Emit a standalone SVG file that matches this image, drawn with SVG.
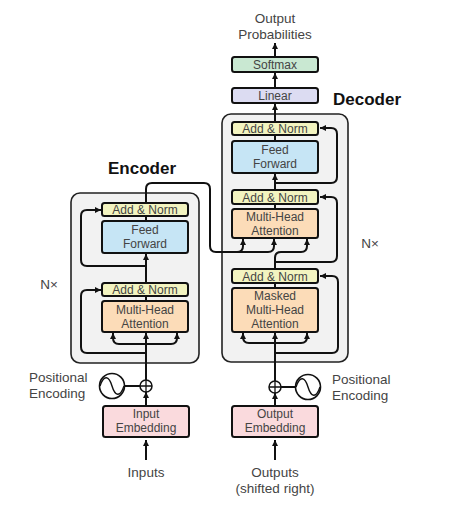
<svg xmlns="http://www.w3.org/2000/svg" width="453" height="523" viewBox="0 0 453 523">
<defs>
<marker id="ar" viewBox="0 0 10 10" refX="10" refY="5" markerWidth="6" markerHeight="6" markerUnits="userSpaceOnUse" orient="auto">
<path d="M0,0 L10,5 L0,10 z" fill="#111"/>
</marker>
<style>
.stack{fill:#f2f2f2;stroke:#222;stroke-width:1.6}
.box{stroke:#111;stroke-width:2}
.an{fill:#f3f4c0}
.ff{fill:#c6e5f5}
.mha{fill:#fcdcb8}
.emb{fill:#fadadd}
.lin{fill:#dcdcf2}
.sm{fill:#c9e8d2}
.t{font-family:"Liberation Sans",Arial,sans-serif;font-size:12px;fill:#444;text-anchor:middle}
.tl{font-family:"Liberation Sans",Arial,sans-serif;font-size:13.5px;fill:#444}
.h{font-family:"Liberation Sans",Arial,sans-serif;font-size:17px;font-weight:bold;fill:#111}
.c{fill:none;stroke:#111;stroke-width:2}
.ca{fill:none;stroke:#111;stroke-width:2;marker-end:url(#ar)}
</style>
</defs>
<rect width="453" height="523" fill="#fff"/>

<g id="encoder-stack">
<rect class="stack" x="71" y="193" width="128" height="170" rx="9"/>
<text class="h" x="142" y="174" text-anchor="middle">Encoder</text>
<text class="tl" x="49" y="289" text-anchor="middle">N×</text>
</g>
<g id="decoder-stack">
<rect class="stack" x="222" y="114" width="126" height="248" rx="9"/>
<text class="h" x="333" y="105">Decoder</text>
<text class="tl" x="370" y="248" text-anchor="middle">N×</text>
</g>

<g id="connectors">
<!-- encoder -->
<path class="ca" d="M146,460 V440"/>
<path class="ca" d="M146,405 V392"/>
<path class="ca" d="M146,380 V333"/>
<path class="ca" d="M146,344 H119 Q113,344 113,338 V333"/>
<path class="ca" d="M146,344 H171 Q177,344 177,338 V333"/>
<path class="ca" d="M146,353 H87 Q81,353 81,347 V296 Q81,290 87,290 H101"/>
<path class="c" d="M146,301 V296"/>
<path class="ca" d="M146,282 V254"/>
<path class="ca" d="M146,266 H87 Q81,266 81,260 V216 Q81,210 87,210 H101"/>
<path class="c" d="M146,221 V216"/>
<path class="ca" d="M146,203 V189 Q146,183 152,183 H204 Q210,183 210,189 V246 Q210,252 216,252 H268 Q274,252 274,246 V239"/>
<path class="ca" d="M237,252 Q243,252 243,246 V239"/>
<line class="c" x1="124" y1="386" x2="140" y2="386"/>
<!-- decoder -->
<path class="ca" d="M275,460 V440"/>
<path class="ca" d="M275,405 V393"/>
<path class="ca" d="M275,381 V333"/>
<path class="ca" d="M275,343 H249 Q243,343 243,337 V333"/>
<path class="ca" d="M275,343 H301 Q307,343 307,337 V333"/>
<path class="ca" d="M275,353 H332 Q338,353 338,347 V282 Q338,276 332,276 H320"/>
<path class="c" d="M275,288 V283"/>
<path class="ca" d="M275,268 V258 Q275,252 281,252 H301 Q307,252 307,246 V239"/>
<path class="ca" d="M275,262 H331 Q337,262 337,256 V203 Q337,197 331,197 H320"/>
<path class="c" d="M275,209 V204"/>
<path class="ca" d="M275,190 V174"/>
<path class="ca" d="M275,183 H331 Q337,183 337,177 V134 Q337,128 331,128 H320"/>
<path class="c" d="M275,141 V135"/>
<path class="ca" d="M275,122 V104"/>
<path class="ca" d="M275,88 V73"/>
<path class="ca" d="M275,57 V43"/>
<line class="c" x1="281" y1="387" x2="296" y2="387"/>
</g>

<g id="enc-add-norm-2"><rect class="box an" x="102" y="203" width="86" height="13" rx="2.5"/><text class="t" x="145" y="214">Add &amp; Norm</text></g>
<g id="enc-feed-forward"><rect class="box ff" x="102" y="221" width="86" height="32" rx="2.5"/><text class="t" x="145" y="234">Feed</text><text class="t" x="145" y="248">Forward</text></g>
<g id="enc-add-norm-1"><rect class="box an" x="102" y="283" width="86" height="13" rx="2.5"/><text class="t" x="145" y="294">Add &amp; Norm</text></g>
<g id="enc-mha"><rect class="box mha" x="102" y="301" width="86" height="31" rx="2.5"/><text class="t" x="145" y="314">Multi-Head</text><text class="t" x="145" y="328">Attention</text></g>
<g id="input-embedding"><rect class="box emb" x="103" y="406" width="86" height="31" rx="2.5"/><text class="t" x="146" y="418">Input</text><text class="t" x="146" y="432">Embedding</text></g>
<g id="enc-pos-enc">
<circle cx="112" cy="386" r="12.5" fill="#fff" stroke="#111" stroke-width="1.6"/>
<path d="M100,386 C104,374 109,376 112,386 C115,396 120,398 124,386" fill="none" stroke="#111" stroke-width="1.4"/>
<text class="tl" x="29" y="382">Positional</text><text class="tl" x="29" y="398">Encoding</text>
</g>
<g id="enc-plus"><circle cx="146" cy="386" r="6" fill="#fff" stroke="#111" stroke-width="1.5"/><path d="M140,386 H152 M146,380 V392" stroke="#111" stroke-width="1.3"/></g>
<g id="inputs"><text class="tl" x="146" y="477" text-anchor="middle">Inputs</text></g>

<g id="dec-add-norm-3"><rect class="box an" x="232" y="122" width="86" height="13" rx="2.5"/><text class="t" x="275" y="133">Add &amp; Norm</text></g>
<g id="dec-feed-forward"><rect class="box ff" x="232" y="141" width="86" height="32" rx="2.5"/><text class="t" x="275" y="154">Feed</text><text class="t" x="275" y="168">Forward</text></g>
<g id="dec-add-norm-2"><rect class="box an" x="232" y="190" width="86" height="14" rx="2.5"/><text class="t" x="275" y="201.5">Add &amp; Norm</text></g>
<g id="dec-mha"><rect class="box mha" x="232" y="209" width="86" height="29" rx="2.5"/><text class="t" x="275" y="221">Multi-Head</text><text class="t" x="275" y="235">Attention</text></g>
<g id="dec-add-norm-1"><rect class="box an" x="232" y="269" width="86" height="14" rx="2.5"/><text class="t" x="275" y="280.5">Add &amp; Norm</text></g>
<g id="dec-masked-mha"><rect class="box mha" x="232" y="288" width="86" height="44" rx="2.5"/><text class="t" x="275" y="300">Masked</text><text class="t" x="275" y="314">Multi-Head</text><text class="t" x="275" y="328">Attention</text></g>
<g id="output-embedding"><rect class="box emb" x="232" y="406" width="86" height="31" rx="2.5"/><text class="t" x="275" y="418">Output</text><text class="t" x="275" y="432">Embedding</text></g>
<g id="dec-plus"><circle cx="275" cy="387" r="6" fill="#fff" stroke="#111" stroke-width="1.5"/><path d="M269,387 H281 M275,381 V393" stroke="#111" stroke-width="1.3"/></g>
<g id="dec-pos-enc">
<circle cx="308" cy="387" r="12.5" fill="#fff" stroke="#111" stroke-width="1.6"/>
<path d="M296,387 C300,375 305,377 308,387 C311,397 316,399 320,387" fill="none" stroke="#111" stroke-width="1.4"/>
<text class="tl" x="332" y="384">Positional</text><text class="tl" x="332" y="400">Encoding</text>
</g>
<g id="outputs"><text class="tl" x="275" y="477" text-anchor="middle">Outputs</text><text class="tl" x="275" y="493" text-anchor="middle">(shifted right)</text></g>

<g id="linear"><rect class="box lin" x="232" y="88" width="86" height="15" rx="2.5"/><text class="t" x="275" y="100">Linear</text></g>
<g id="softmax"><rect class="box sm" x="232" y="57" width="86" height="15" rx="2.5"/><text class="t" x="275" y="69">Softmax</text></g>
<g id="output-probabilities"><text class="tl" x="275" y="23" text-anchor="middle">Output</text><text class="tl" x="275" y="39" text-anchor="middle">Probabilities</text></g>
</svg>
